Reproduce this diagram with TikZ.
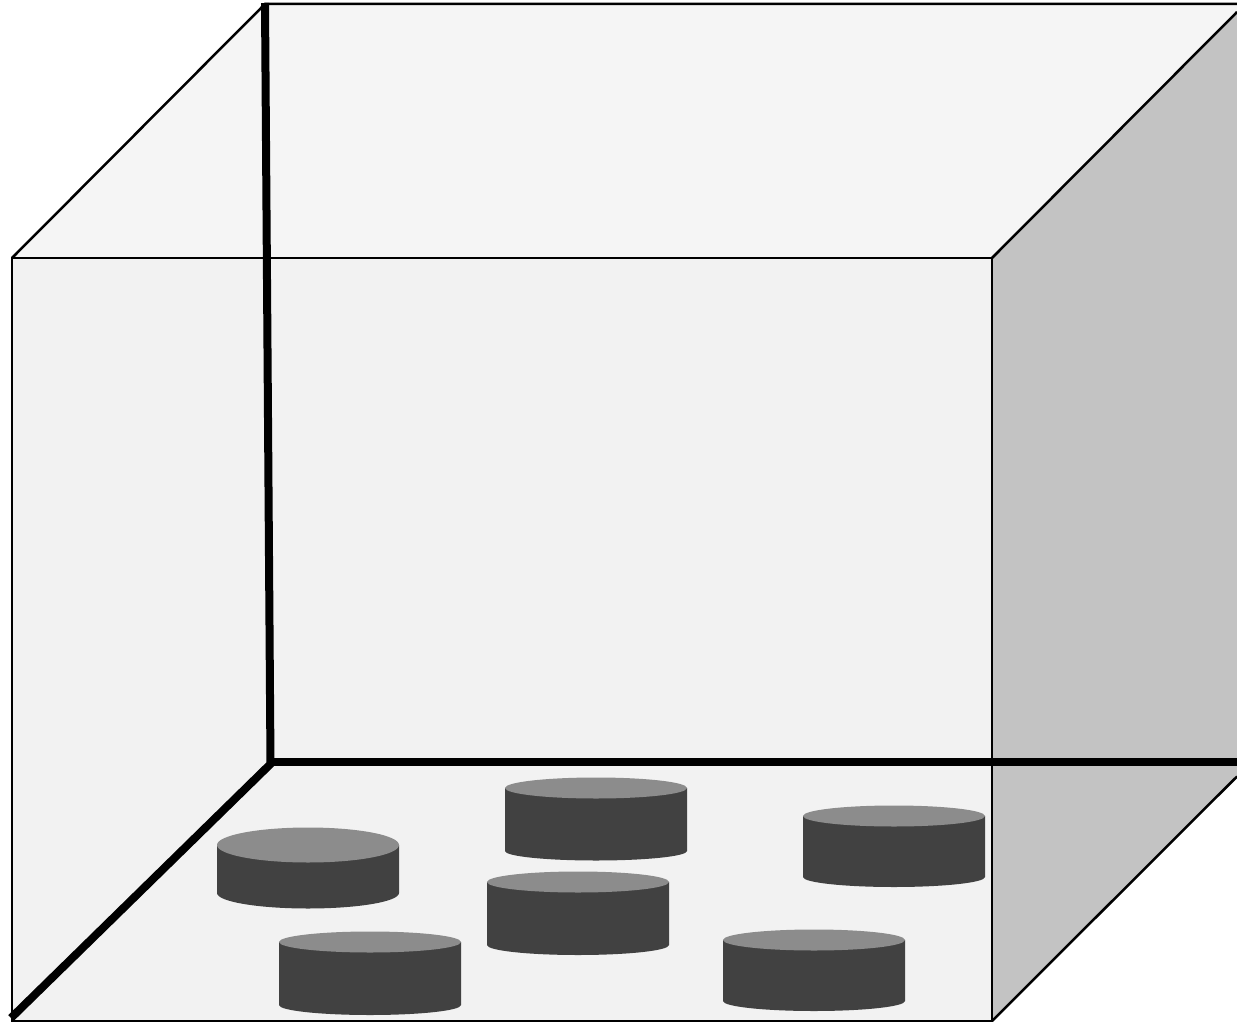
\documentclass[tikz,border=0pt]{standalone}
\tikzset{
  edge/.style={draw=black,line width=2.5pt,line join=miter},
  thick edge/.style={draw=black,line width=8pt,line cap=butt,line join=miter},
  cyl side/.style={fill=cylSide},
  cyl top/.style={fill=cylTop},
}
\definecolor{cylSide}{HTML}{414141}
\definecolor{cylTop}{HTML}{8C8C8C}
\definecolor{topFace}{HTML}{F5F5F5}
\definecolor{frontFace}{HTML}{F2F2F2}
\definecolor{rightFace}{HTML}{C3C3C3}
% args: left x, top-ellipse centre y, top ry, side-bottom y, bottom ry
\newcommand{\puck}[5]{%
  \fill[cyl side] (#1,#2) -- (#1+182,#2) -- (#1+182,#4)
    arc[start angle=0,end angle=180,x radius=91,y radius=#5] -- cycle;
  \fill[cyl top] (#1+91,#2) ellipse[x radius=91,y radius=#3];
}
\begin{document}
\begin{tikzpicture}[x=1pt,y=-1pt]
  \useasboundingbox (0,0) rectangle (1237,1022);
  \coordinate (ftl) at (12,258);
  \coordinate (ftr) at (992,258);
  \coordinate (fbl) at (12,1021);
  \coordinate (fbr) at (992,1021);
  \coordinate (btl) at (265,4);
  \coordinate (btr) at (1237,4);
  \coordinate (rtr) at (1237,12);
  \coordinate (rbr) at (1237,776.5);
  \fill[topFace] (ftl) -- (btl) -- (btr) -- (rtr) -- (ftr) -- cycle;
  \fill[rightFace] (ftr) -- (rtr) -- (rbr) -- (fbr) -- cycle;
  \fill[frontFace] (ftl) rectangle (fbr);
  \puck{217}{845}{17.5}{893}{15.5}
  \puck{505}{788}{10.5}{851}{9.5}
  \puck{803}{816}{10.5}{877}{10}
  \puck{487}{882}{10.5}{945}{10}
  \puck{279}{942}{10.5}{1005}{10}
  \puck{723}{940}{10.5}{1001}{10}
  \draw[edge] (ftl) -- (ftr) -- (fbr) -- (fbl) -- cycle;
  \draw[edge] (ftl) -- (btl) -- (btr);
  \draw[edge] (ftr) -- (rtr);
  \draw[edge] (fbr) -- (rbr);
  \draw[thick edge] (265,3) -- (270.5,764) -- (11,1018);
  \draw[thick edge] (270.5,761.5) -- (1237,761.5);
\end{tikzpicture}
\end{document}
